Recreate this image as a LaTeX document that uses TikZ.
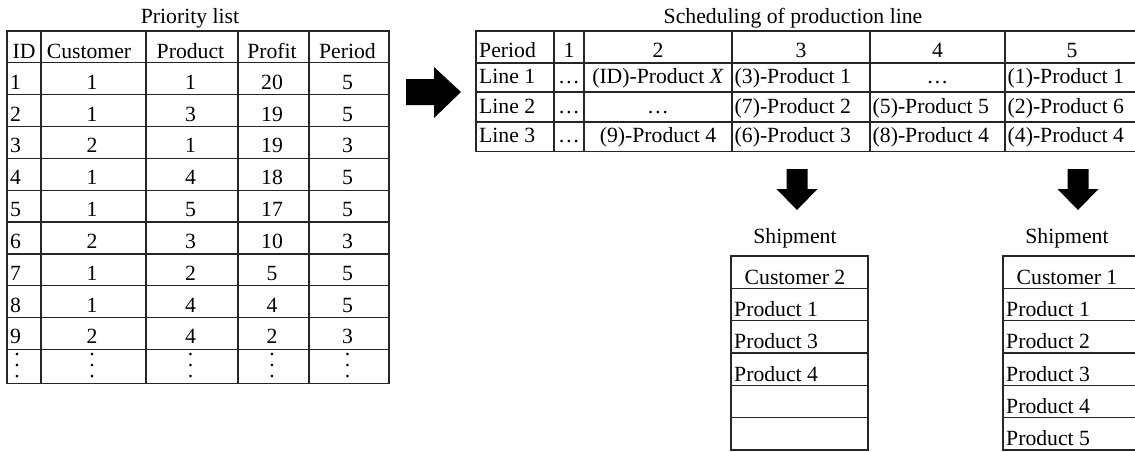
\documentclass[tikz,border=0pt]{standalone}
\usepackage{fontspec}
\setmainfont{Liberation Serif}
\usepackage{tikz}

\newcommand{\vdotcol}{\vbox{\baselineskip=11pt\lineskiplimit=-20pt\hbox{.}\hbox{.}\hbox{.}}}

\tikzset{
	txt/.style={inner sep=0pt, anchor=base},
	ltxt/.style={inner sep=0pt, anchor=base west},
	rule/.style={line width=1.2pt, black!85},
}

\begin{document}
\begin{tikzpicture}[x=1pt,y=-1pt,font=\fontsize{21.7}{25}\selectfont]
	\useasboundingbox (0,0) rectangle (1135,451);

	% priority list
	\node[txt] (plist) at (190,23) {Priority list};
	\draw[rule] (7,31) rectangle (389,383.5);
	\foreach \x in {41,146,238,309}{
		\draw[rule] (\x,31) -- (\x,383.5);
	}
	\foreach \k in {0,...,9}{
		\draw[rule] (7,{62.8+31.85*\k}) -- (389,{62.8+31.85*\k});
	}
	\node[txt] (h-id) at (24,58) {ID};
	\node[txt] (h-cust) at (89,58) {Customer};
	\node[txt] (h-prod) at (190.5,58) {Product};
	\node[txt] (h-prof) at (272,58) {Profit};
	\node[txt] (h-per) at (347.5,58) {Period};
	\foreach \id/\cu/\pr/\pf/\pe in {1/1/1/20/5, 2/1/3/19/5, 3/2/1/19/3, 4/1/4/18/5, 5/1/5/17/5, 6/2/3/10/3, 7/1/2/5/5, 8/1/4/4/5, 9/2/4/2/3}{
		\pgfmathsetmacro{\yb}{62.8+31.85*\id-5.5}
		\node[ltxt] (id-\id) at (10,\yb) {\id};
		\node[txt] (cu-\id) at (92,\yb) {\cu};
		\node[txt] (pr-\id) at (190.5,\yb) {\pr};
		\node[txt] (pf-\id) at (272,\yb) {\pf};
		\node[txt] (pe-\id) at (347.5,\yb) {\pe};
	}
	\foreach \x [count=\c] in {17,92,190.5,272,347.5}{
		\node[inner sep=0pt] (more-\c) at (\x,366) {\vdotcol};
	}

	% arrow to the schedule
	\fill (406,79) -- (434,79) -- (434,67) -- (461,92) -- (434,118) -- (434,105) -- (406,105) -- cycle;

	% scheduling of production line
	\node[txt] (sched) at (793,23) {Scheduling of production line};
	\draw[rule] (1140,31) -- (476,31) -- (476,151.5) -- (1140,151.5);
	\foreach \x in {554,584,732,870,1005}{
		\draw[rule] (\x,31) -- (\x,151.5);
	}
	\foreach \y in {63,92,122}{
		\draw[rule] (476,\y) -- (1140,\y);
	}
	\node[ltxt] (per) at (479,57) {Period};
	\foreach \x/\t in {569/1, 658/2, 801/3, 937.5/4, 1072/5}{
		\node[txt] (p-\t) at (\x,57) {\t};
	}
	\foreach \y/\t [count=\r] in {83.5/Line 1, 113/Line 2, 142.5/Line 3}{
		\node[ltxt] (line-\r) at (479,\y) {\t};
		\node[txt] (skip-\r) at (569,\y) {\dots};
	}
	\node[txt] (l1-2) at (658,83.5) {(ID)-Product \textit{X}};
	\node[ltxt] (l1-3) at (734.5,83.5) {(3)-Product 1};
	\node[txt] (l1-4) at (937.5,83.5) {\dots};
	\node[ltxt] (l1-5) at (1007.5,83.5) {(1)-Product 1};
	\node[txt] (l2-2) at (658,113) {\dots};
	\node[ltxt] (l2-3) at (734.5,113) {(7)-Product 2};
	\node[ltxt] (l2-4) at (872.5,113) {(5)-Product 5};
	\node[ltxt] (l2-5) at (1007.5,113) {(2)-Product 6};
	\node[txt] (l3-2) at (658,142.5) {(9)-Product 4};
	\node[ltxt] (l3-3) at (734.5,142.5) {(6)-Product 3};
	\node[ltxt] (l3-4) at (872.5,142.5) {(8)-Product 4};
	\node[ltxt] (l3-5) at (1007.5,142.5) {(4)-Product 4};

	% shipments
	\foreach \cx in {797,1078}{
		\fill (\cx-10.5,169) -- (\cx+10.5,169) -- (\cx+10.5,189) -- (\cx+20.5,189)
			-- (\cx,210) -- (\cx-20.5,189) -- (\cx-10.5,189) -- cycle;
	}
	\foreach \bx/\c [count=\s] in {731/2, 1003/1}{
		\node[txt] (ship-\s) at (\bx+64,243) {Shipment};
		\draw[rule] (\bx,256) rectangle (\bx+137,450);
		\foreach \k in {1,...,5}{
			\draw[rule] (\bx,{256+32.33*\k}) -- (\bx+137,{256+32.33*\k});
		}
		\node[txt] (cust-\s) at (\bx+64,284) {Customer \c};
	}
	\foreach \p [count=\k] in {1,3,4}{
		\node[ltxt] (sa-\k) at (734,{256+32.33*(\k+1)-4}) {Product \p};
	}
	\foreach \p [count=\k] in {1,2,3,4,5}{
		\node[ltxt] (sb-\k) at (1006,{256+32.33*(\k+1)-4}) {Product \p};
	}
\end{tikzpicture}
\end{document}
